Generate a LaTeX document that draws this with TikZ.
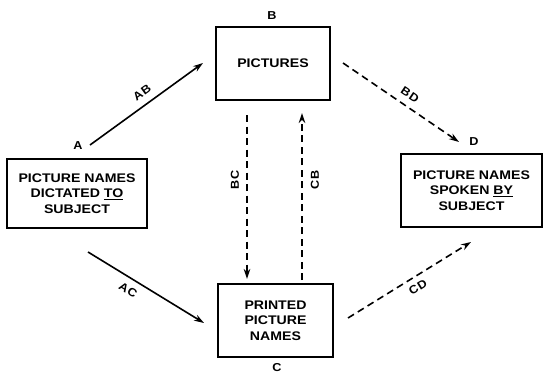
\documentclass[tikz,border=0pt]{standalone}
\usepackage{fontspec}
\newfontfamily\lett[FakeStretch=1.13]{Liberation Sans}
\newfontfamily\lettl[FakeStretch=1.1,LetterSpace=8]{Liberation Sans}
\usetikzlibrary{arrows.meta}
\tikzset{
  box/.style={draw, line width=1.6pt, minimum width=#1, align=center, inner sep=0pt,
    font=\lett\bfseries\fontsize{12.5}{15.5}\selectfont},
  lbl/.style={inner sep=0pt, font=\lettl\bfseries\fontsize{11.5}{13}\selectfont},
  conn/.style={line width=1.6pt, -{Stealth[length=10pt,width=6.5pt]}},
  dconn/.style={conn, dash pattern=on 7pt off 4.5pt},
}
\begin{document}
\begin{tikzpicture}[x=1pt,y=-1pt]
\useasboundingbox (0,0) rectangle (544,375);
\node[box=140pt, minimum height=69pt] (A) at (77,193.5) {PICTURE NAMES\\DICTATED \underline{TO}\\SUBJECT};
\node[box=114pt, minimum height=73pt] (B) at (273,63.5) {PICTURES};
\node[box=115pt, minimum height=73pt] (C) at (275.5,320.5) {PRINTED\\PICTURE\\NAMES};
\node[box=141pt, minimum height=73pt] (D) at (471.5,190.5) {PICTURE NAMES\\SPOKEN \underline{BY}\\SUBJECT};
\node[lbl] (la) at (78,146) {A};
\node[lbl] (lb) at (272,16) {B};
\node[lbl] (lc) at (277,368) {C};
\node[lbl] (ld) at (474,142) {D};
\coordinate (ab1) at (90,145); \coordinate (ab2) at (203,63);
\coordinate (ac1) at (88,252); \coordinate (ac2) at (204,323);
\coordinate (bd1) at (343,63); \coordinate (bd2) at (459,142);
\coordinate (cd1) at (348,318); \coordinate (cd2) at (471,242);
\coordinate (bc1) at (247,115); \coordinate (bc2) at (247,279);
\coordinate (cb1) at (302,280); \coordinate (cb2) at (302,113);
\draw[conn] (ab1) -- (ab2);
\draw[conn] (ac1) -- (ac2);
\draw[dconn] (bd1) -- (bd2);
\draw[dconn] (cd1) -- (cd2);
\draw[dconn] (bc1) -- (bc2);
\draw[dconn] (cb1) -- (cb2);
\node[lbl, rotate=36] (lab) at (142,93) {AB};
\node[lbl, rotate=-32] (lac) at (128,290) {AC};
\node[lbl, rotate=-34] (lbd) at (410,95) {BD};
\node[lbl, rotate=32] (lcd) at (418,287) {CD};
\node[lbl, rotate=90] (lbc) at (235,180) {BC};
\node[lbl, rotate=90] (lcb) at (315,180) {CB};
\end{tikzpicture}
\end{document}
